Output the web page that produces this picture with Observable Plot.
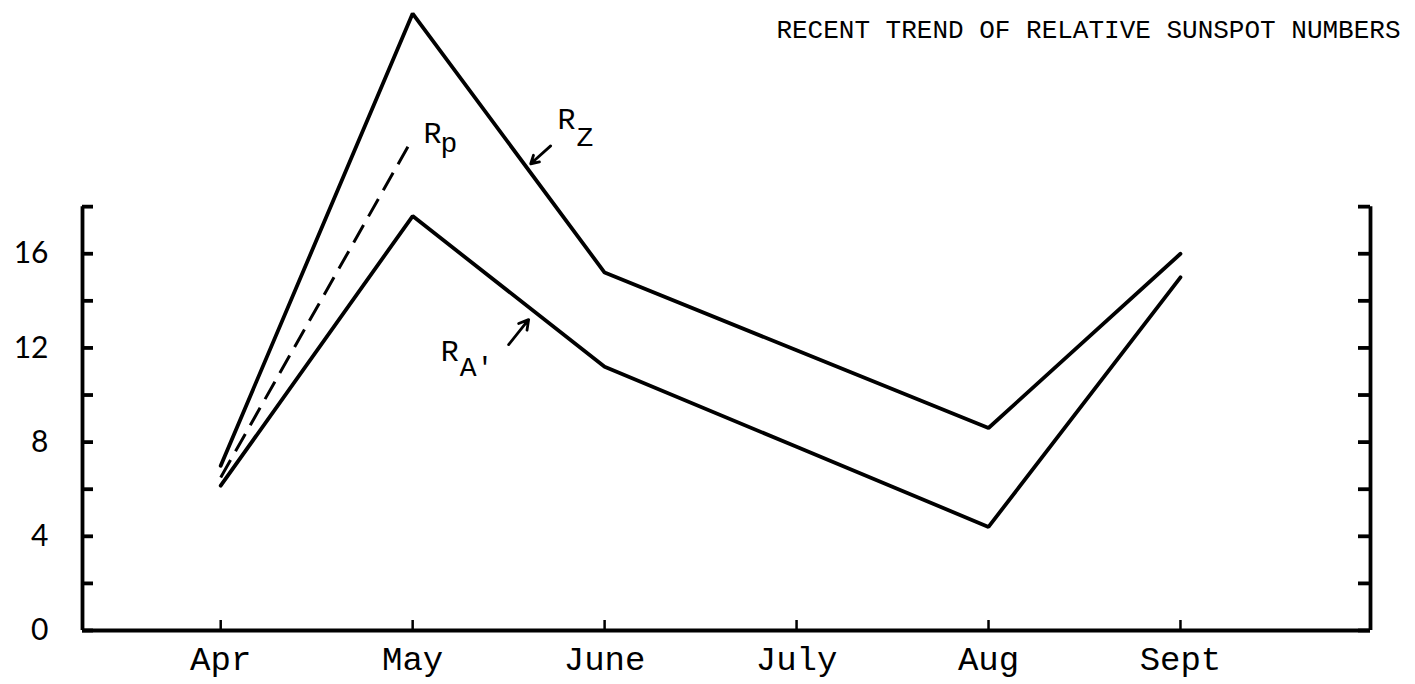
<!DOCTYPE html>
<html><head><meta charset="utf-8">
<script src="https://cdn.jsdelivr.net/npm/d3@7"></script>
<script src="https://cdn.jsdelivr.net/npm/@observablehq/plot@0.6"></script>
<style>html,body{margin:0;padding:0;background:#fff;} #chart svg{display:block;}</style>
</head><body><div id="chart"></div>
<script>
// ---- data ----
const months = ["Apr", "May", "June", "July", "Aug", "Sept"];
const rzValues = [7.0, 26.2, 15.2, 11.9, 8.6, 16.0];   // R_Z
const raValues = [6.15, 17.6, 11.2, 7.8, 4.4, 15.0];   // R_A'
const rpValues = [6.5, 20.9];                          // R_p (Apr–May only, dashed)
const yLabelTicks = [0, 4, 8, 12, 16];
const yTickMarks = [0, 2, 4, 6, 8, 10, 12, 14, 16, 18];
const axisTop = 18;
const title = "RECENT TREND OF RELATIVE SUNSPOT NUMBERS";

// ---- build rows ----
const rows = vals => vals.map((v, i) => ({i, v}));
const rz = rows(rzValues), ra = rows(raValues), rp = rows(rpValues);
const monthIdx = months.map((m, i) => i);

const W = 1415, H = 684;
const mL = 82, mR = 45, mT = 6, mB = 54;
const frameW = W - mL - mR, frameH = H - mT - mB;
const xDom = [-0.72, 5.99];
const yDom = [0, 26.5];

const mono = "'Liberation Mono', 'DejaVu Sans Mono', monospace";
const sw = 3.8;

// annotation anchors (data units) with subscript offsets (px)
const labels = [
  {i: 1.057, v: 20.71, main: "R", sub: "p", sdx: 17, sdy: 9},
  {i: 1.755, v: 21.31, main: "R", sub: "Z", sdx: 19, sdy: 17},
  {i: 1.146, v: 11.46, main: "R", sub: "A'", sdx: 19, sdy: 15}
];
const arrows = [
  {x1: 1.719, y1: 20.58, x2: 1.615, y2: 19.82},
  {x1: 1.500, y1: 12.14, x2: 1.604, y2: 13.20}
];

const labelMarks = labels.flatMap(d => [
  Plot.text([d], {x: "i", y: "v", text: "main", textAnchor: "start", lineAnchor: "bottom", fontSize: 30, fontFamily: mono}),
  Plot.text([d], {x: "i", y: "v", text: "sub", textAnchor: "start", lineAnchor: "bottom", fontSize: 28, fontFamily: mono, dx: d.sdx, dy: d.sdy})
]);

const chart = Plot.plot({
  width: W, height: H,
  marginLeft: mL, marginRight: mR, marginTop: mT, marginBottom: mB,
  style: {background: "#fff", color: "#000", overflow: "visible", fontFamily: "Lato, 'Open Sans', sans-serif"},
  x: {domain: xDom, label: null},
  y: {domain: yDom, label: null},
  marks: [
    Plot.axisY({ticks: yLabelTicks, tickSize: 0, tickPadding: 34, fontSize: 30, label: null}),
    Plot.axisX({ticks: monthIdx, tickFormat: i => months[i], tickSize: 0, tickPadding: 15, fontSize: 34, fontFamily: mono, label: null}),
    // frame: bottom, left, right lines
    Plot.ruleY([0], {strokeWidth: sw}),
    Plot.ruleX([xDom[0]], {y1: 0, y2: axisTop, strokeWidth: sw}),
    Plot.ruleX([xDom[1]], {y1: 0, y2: axisTop, strokeWidth: sw}),
    // inward tick marks
    Plot.tickY(yTickMarks, {y: d => d, insetRight: frameW - 11, strokeWidth: sw}),
    Plot.tickY(yTickMarks, {y: d => d, insetLeft: frameW - 12, strokeWidth: sw}),
    Plot.tickX(monthIdx, {x: d => d, insetTop: frameH - 10, strokeWidth: 2.5}),
    // series
    Plot.line(rz, {x: "i", y: "v", strokeWidth: sw, strokeLinejoin: "miter", strokeLinecap: "round"}),
    Plot.line(ra, {x: "i", y: "v", strokeWidth: sw, strokeLinejoin: "miter", strokeLinecap: "round"}),
    Plot.line(rp, {x: "i", y: "v", strokeWidth: 3, strokeDasharray: "20,10", strokeLinecap: "butt"}),
    // annotations
    ...labelMarks,
    Plot.arrow(arrows, {x1: "x1", y1: "y1", x2: "x2", y2: "y2", strokeWidth: 2.8, headLength: 13}),
    // title
    Plot.text([title], {frameAnchor: "top-right", text: d => d, dx: 30, dy: 31, lineAnchor: "bottom", fontSize: 26, fontFamily: mono})
  ]
});

document.getElementById("chart").append(chart);
</script>
</body></html>
